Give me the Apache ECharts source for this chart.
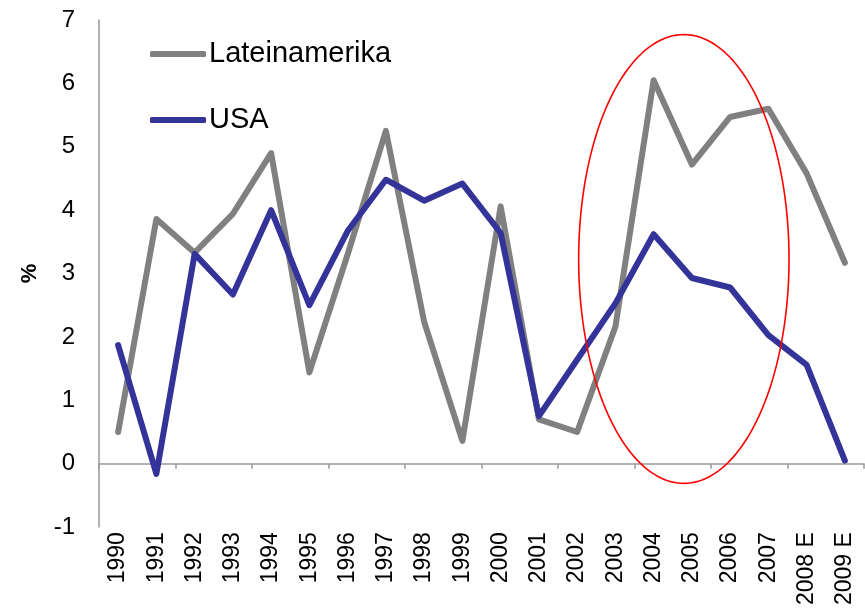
<!DOCTYPE html>
<html>
<head>
<meta charset="utf-8">
<script src="https://cdn.jsdelivr.net/npm/echarts@6/dist/echarts.min.js"></script>
<style>
html,body{margin:0;padding:0;background:#fff;}
#chart{width:865px;height:608px;}
</style>
</head>
<body>
<div id="chart"></div>
<script>
const categories = ['1990','1991','1992','1993','1994','1995','1996','1997','1998','1999','2000','2001','2002','2003','2004','2005','2006','2007','2008 E','2009 E'];
const lateinamerika = [0.5, 3.86, 3.33, 3.94, 4.9, 1.44, 3.3, 5.25, 2.24, 0.36, 4.06, 0.70, 0.5, 2.16, 6.05, 4.72, 5.47, 5.6, 4.58, 3.17];
const usa = [1.87, -0.16, 3.31, 2.67, 4.0, 2.5, 3.67, 4.48, 4.15, 4.42, 3.64, 0.75, 1.64, 2.53, 3.62, 2.93, 2.78, 2.03, 1.56, 0.05];
const yTicks = [-1, 0, 1, 2, 3, 4, 5, 6, 7];
// highlighted region (category index, value) and half-extents
const highlightCenter = [14.79, 3.23];
const highlightRadius = [2.75, 3.54];

const font = '"Liberation Sans", Arial, sans-serif';
const chart = echarts.init(document.getElementById('chart'));
const option = {
  animation: false,
  backgroundColor: '#ffffff',
  grid: {left: 99, right: 1, top: 20, bottom: 79.5, containLabel: false},
  legend: {
    orient: 'vertical', left: 150, top: 39, padding: 0,
    itemWidth: 56, itemHeight: 6, itemGap: 36, icon: 'roundRect',
    textStyle: {fontFamily: font, fontSize: 29, color: '#000', lineHeight: 30, padding: [0,0,0,-2]},
    data: ['Lateinamerika', 'USA']
  },
  xAxis: [{
    type: 'category', data: categories, boundaryGap: true,
    axisLine: {onZero: true, lineStyle: {color: '#999999', width: 1.5}},
    axisTick: {show: true, length: 5, alignWithLabel: false, lineStyle: {color: '#999999', width: 1.5}},
    axisLabel: {show: false}, splitLine: {show: false}
  }, {
    type: 'category', data: categories, boundaryGap: true, position: 'bottom',
    axisLine: {show: false, onZero: false}, axisTick: {show: false},
    axisLabel: {show: true, rotate: 90, margin: 5, fontFamily: font, fontSize: 23, color: '#000', interval: 0},
    splitLine: {show: false}
  }],
  yAxis: {
    type: 'value', min: yTicks[0], max: yTicks[yTicks.length - 1], interval: 1,
    name: '%', nameLocation: 'middle', nameRotate: 90, nameGap: 58,
    nameTextStyle: {fontFamily: font, fontSize: 22, fontWeight: 'bold', color: '#000'},
    axisLine: {show: true, lineStyle: {color: '#999999', width: 1.5}},
    axisTick: {show: false},
    axisLabel: {margin: 24, fontFamily: font, fontSize: 24, color: '#000'},
    splitLine: {show: false}
  },
  series: [{
    name: 'Lateinamerika', type: 'line', data: lateinamerika, xAxisIndex: 0,
    showSymbol: false, symbol: 'none', color: '#808080',
    lineStyle: {color: '#808080', width: 6, cap: 'round', join: 'round'}
  }, {
    name: 'USA', type: 'line', data: usa, xAxisIndex: 0,
    showSymbol: false, symbol: 'none', color: '#333399',
    lineStyle: {color: '#333399', width: 6, cap: 'round', join: 'round'}
  }]
};
chart.setOption(option);

const p0 = chart.convertToPixel({xAxisIndex: 0, yAxisIndex: 0}, [0, 0]);
const p1 = chart.convertToPixel({xAxisIndex: 0, yAxisIndex: 0}, [1, 1]);
const dx = p1[0] - p0[0], dy = p1[1] - p0[1];
const cx = p0[0] + dx * highlightCenter[0];
const cy = p0[1] + dy * highlightCenter[1];
const rx = Math.abs(dx * highlightRadius[0]);
const ry = Math.abs(dy * highlightRadius[1]);
const pts = [];
for (let i = 0; i <= 180; i++) {
  const t = i / 180 * Math.PI * 2;
  pts.push([cx + rx * Math.cos(t), cy + ry * Math.sin(t)]);
}
chart.setOption({
  graphic: [{type: 'polyline', shape: {points: pts}, style: {stroke: '#ff0000', lineWidth: 1.6, fill: null}, z: 100}]
});
</script>
</body>
</html>
